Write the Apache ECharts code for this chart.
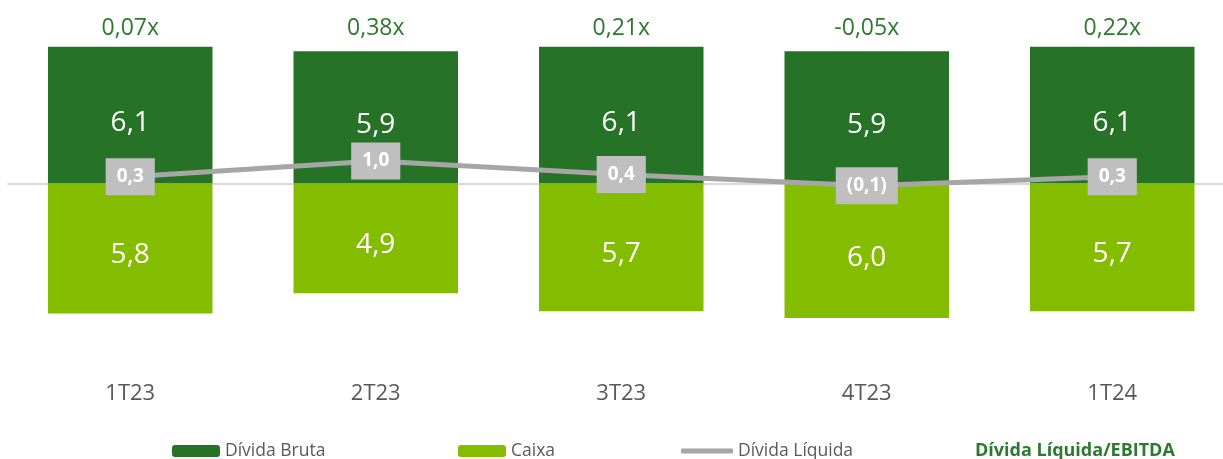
<!DOCTYPE html>
<html>
<head>
<meta charset="utf-8">
<script src="https://cdn.jsdelivr.net/npm/echarts@6/dist/echarts.min.js"></script>
<style>
  html, body { margin: 0; padding: 0; background: #fff; }
  #chart { width: 1223px; height: 459px; }
</style>
</head>
<body>
<div id="chart"></div>
<script>
// dados
const quarters = ["1T23", "2T23", "3T23", "4T23", "1T24"]
const dividaBruta = [6.1, 5.9, 6.1, 5.9, 6.1]
const caixa = [5.8, 4.9, 5.7, 6.0, 5.7]
const dividaLiquida = [0.3, 1.0, 0.4, -0.1, 0.3]
const alavancagem = [0.07, 0.38, 0.21, -0.05, 0.22]

// cores
const darkGreen = "#267328"
const lightGreen = "#84BC00"
const lineGray = "#A6A6A6"
const boxGray = "#BFBFBF"
const textGreen = "#2D7A2D"
const font = "Open Sans"

const fmt = (v) => v.toFixed(1).replace(".", ",")
const fmtNeg = (v) => (v < 0 ? "(" + fmt(-v) + ")" : fmt(v))
const fmtRatio = (v) => v.toFixed(2).replace(".", ",") + "x"

const chart = echarts.init(document.getElementById("chart"))

const legendBase = {
  top: 437,
  itemWidth: 48,
  itemHeight: 12,
  textStyle: { fontFamily: font, fontSize: 17.5, color: "#595959" },
  selectedMode: false,
}

const option = {
  animation: false,
  // grade um pouco mais larga que a tela para alinhar as colunas
  grid: { left: 7.5, width: 1227.5, top: 44.6, bottom: 96.3, outerBoundsMode: "none", containLabel: false },
  legend: [
    { ...legendBase, left: 167, data: ["Dívida Bruta"] },
    { ...legendBase, left: 453, data: ["Caixa"] },
    { ...legendBase, left: 676, itemWidth: 52, itemHeight: 5, icon: "roundRect", data: ["Dívida Líquida"] },
    {
      ...legendBase,
      left: 965,
      icon: "none",
      itemWidth: 0,
      data: ["Dívida Líquida/EBITDA"],
      textStyle: { fontFamily: font, fontSize: 18, fontWeight: "bold", color: textGreen },
    },
  ],
  xAxis: [
    {
      type: "category",
      data: quarters,
      axisLine: { show: false, onZero: false },
      axisTick: { show: false },
      axisLabel: { fontFamily: font, fontSize: 22, color: "#595959", margin: 20 },
    },
    {
      type: "category",
      position: "top",
      data: alavancagem.map(fmtRatio),
      axisLine: { show: false, onZero: false },
      axisTick: { show: false },
      axisLabel: { fontFamily: font, fontSize: 23, color: textGreen, margin: 5 },
    },
  ],
  yAxis: {
    type: "value",
    min: -8,
    max: 6.2,
    show: false,
    splitLine: { show: false },
  },
  series: [
    {
      name: "Dívida Bruta",
      type: "bar",
      barWidth: "67%",
      barGap: "-100%",
      itemStyle: { color: darkGreen },
      label: {
        show: true,
        position: "inside",
        offset: [0, 8],
        color: "#fff",
        fontFamily: font,
        fontSize: 28,
        formatter: (p) => fmt(p.value),
      },
      data: dividaBruta,
    },
    {
      name: "Caixa",
      type: "bar",
      barWidth: "67%",
      barGap: "-100%",
      itemStyle: { color: lightGreen },
      label: {
        show: true,
        position: "inside",
        offset: [0, 7],
        color: "#fff",
        fontFamily: font,
        fontSize: 28,
        formatter: (p) => fmt(-p.value),
      },
      markLine: {
        silent: true,
        symbol: "none",
        label: { show: false },
        lineStyle: { color: "#D9D9D9", width: 2, type: "solid" },
        data: [{ yAxis: 0 }],
        z: 1,
      },
      data: caixa.map((v) => -v),
    },
    {
      name: "Dívida Líquida",
      type: "line",
      z: 5,
      symbol: "rect",
      symbolSize: 1,
      itemStyle: { color: lineGray },
      lineStyle: { color: lineGray, width: 5 },
      label: {
        show: true,
        position: "inside",
        color: "#fff",
        fontFamily: font,
        fontWeight: "bold",
        fontSize: 19,
        lineHeight: 21,
        backgroundColor: boxGray,
        padding: [8, 11],
        formatter: (p) => fmtNeg(p.value),
      },
      data: dividaLiquida,
    },
    {
      name: "Dívida Líquida/EBITDA",
      type: "line",
      data: [],
    },
  ],
}

chart.setOption(option)
</script>
</body>
</html>
